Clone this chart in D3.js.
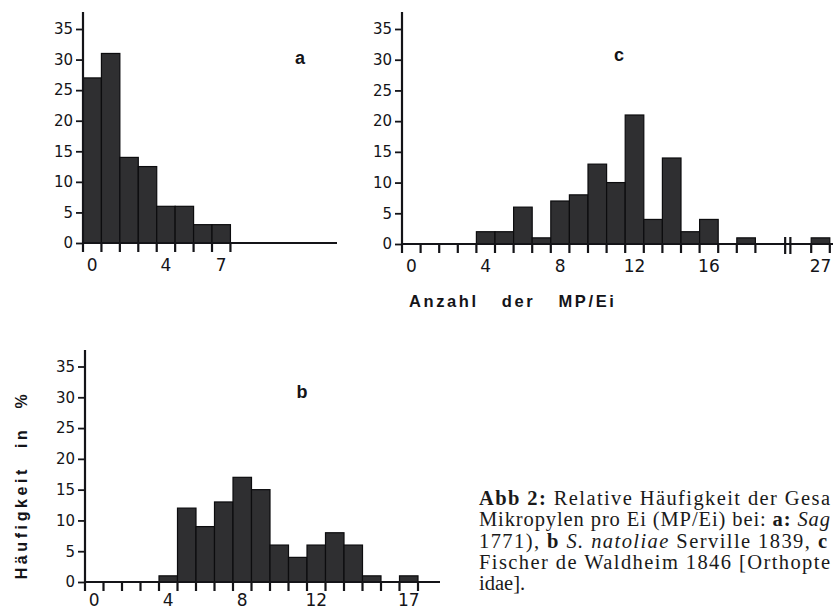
<!DOCTYPE html>
<html>
<head>
<meta charset="utf-8">
<script src="https://cdn.jsdelivr.net/npm/d3@7"></script>
<style>
  html, body { margin: 0; padding: 0; background: #fff; }
  svg { display: block; }
</style>
</head>
<body>
<svg id="chart" width="833" height="610"></svg>
<script>
// ---------- data ----------
const yTickValues = [0, 5, 10, 15, 20, 25, 30, 35];

const aBins   = [0, 1, 2, 3, 4, 5, 6, 7];
const aValues = [27, 31, 14, 12.5, 6, 6, 3, 3];
const aXLabels = [0, 4, 7];

const bBins   = [4, 5, 6, 7, 8, 9, 10, 11, 12, 13, 14, 15, 16, 17];
const bValues = [1, 12, 9, 13, 17, 15, 6, 4, 6, 8, 6, 1, 0, 1];
const bXLabels = [0, 4, 8, 12, 17];

const cBins   = [4, 5, 6, 7, 8, 9, 10, 11, 12, 13, 14, 15, 16, 17, 18, 27];
const cValues = [2, 2, 6, 1, 7, 8, 13, 10, 21, 4, 14, 2, 4, 0, 1, 1];
const cXLabels = [0, 4, 8, 12, 16, 27];

const panelNames = ["a", "b", "c"];
const xAxisTitle = "Anzahl der MP/Ei";
const yAxisTitle = "Häufigkeit in %";

const captionLines = [
  [["Abb 2:", "b"], [" Relative Häufigkeit der Gesa", ""]],
  [["Mikropylen pro Ei (MP/Ei) bei: ", ""], ["a:", "b"], [" ", ""], ["Sag", "i"]],
  [["1771), ", ""], ["b", "b"], [" ", ""], ["S. natoliae", "i"], [" Serville 1839, ", ""], ["c", "b"]],
  [["Fischer de Waldheim 1846 [Orthopte", ""]],
  [["idae].", ""]]
];

// ---------- drawing ----------
const svg = d3.select("#chart");
const ink = "#141418";
const barFill = "#2f2f31";
const sans = "'DejaVu Sans', 'Liberation Sans', sans-serif";

function panel(cfg) {
  const g = svg.append("g");
  const x = d3.scaleLinear().domain([0, cfg.slots]).range([cfg.x0, cfg.x0 + cfg.step * cfg.slots]);
  const y = d3.scaleLinear().domain([0, 35]).range([cfg.base, cfg.top35]);
  const slot = cfg.slotOf || (v => v);

  // bars
  g.selectAll("rect.bar")
    .data(cfg.bins.map((b, i) => ({ b, v: cfg.values[i] })).filter(d => d.v > 0))
    .join("rect")
    .attr("class", "bar")
    .attr("x", d => x(slot(d.b)))
    .attr("width", d => x(slot(d.b) + 1) - x(slot(d.b)))
    .attr("y", d => y(d.v))
    .attr("height", d => y(0) - y(d.v))
    .attr("fill", barFill)
    .attr("stroke", "#0c0c0e")
    .attr("stroke-width", 1.2);

  // y axis
  const yAxis = d3.axisLeft(y).tickValues(yTickValues).tickSize(7).tickPadding(3);
  const ya = g.append("g").attr("transform", `translate(${cfg.x0},0)`).call(yAxis);
  ya.select(".domain").remove();
  ya.selectAll(".tick line").attr("stroke", ink).attr("stroke-width", 1.8);
  ya.selectAll(".tick text").attr("font-family", sans).attr("font-size", 15).attr("fill", ink);
  g.append("line")
    .attr("x1", cfg.x0).attr("x2", cfg.x0)
    .attr("y1", cfg.axisTop).attr("y2", y(0) + 1)
    .attr("stroke", ink).attr("stroke-width", 2.2);

  // baseline
  g.append("line")
    .attr("x1", cfg.x0).attr("x2", cfg.baseEnd)
    .attr("y1", y(0)).attr("y2", y(0))
    .attr("stroke", ink).attr("stroke-width", 2);

  // x ticks
  g.selectAll("line.xt")
    .data(cfg.xTicks)
    .join("line")
    .attr("class", "xt")
    .attr("x1", d => x(d)).attr("x2", d => x(d))
    .attr("y1", y(0)).attr("y2", y(0) + 9)
    .attr("stroke", ink).attr("stroke-width", 2.2);

  // x labels
  g.selectAll("text.xl")
    .data(cfg.xLabels)
    .join("text")
    .attr("class", "xl")
    .attr("x", d => x(slot(d) + 0.5))
    .attr("y", y(0) + cfg.labelGap)
    .attr("text-anchor", "middle")
    .attr("font-family", sans)
    .attr("font-size", 17)
    .attr("fill", ink)
    .text(d => d);

  // panel letter
  g.append("text")
    .attr("x", cfg.labelX).attr("y", cfg.labelY)
    .attr("text-anchor", "middle")
    .attr("font-family", "'Liberation Sans', sans-serif")
    .attr("font-weight", "bold")
    .attr("font-size", 18)
    .attr("fill", ink)
    .text(cfg.name);

  return { g, x, y };
}

// panel a
panel({
  name: panelNames[0], bins: aBins, values: aValues, xLabels: aXLabels,
  x0: 83, step: 18.43, slots: 14, base: 243, top35: 29, axisTop: 12, baseEnd: 337,
  xTicks: d3.range(0, 9), labelX: 300, labelY: 64, labelGap: 28
});

// panel b
panel({
  name: panelNames[1], bins: bBins, values: bValues, xLabels: bXLabels,
  x0: 85, step: 18.5, slots: 19, base: 582, top35: 366.5, axisTop: 350, baseEnd: 440,
  xTicks: d3.range(0, 19), labelX: 302, labelY: 398, labelGap: 24
});

// panel c (broken axis: 27 drawn in slot 22)
const slotC = v => (v <= 18 ? v : v - 5);
const pc = panel({
  name: panelNames[2], bins: cBins, values: cValues, xLabels: cXLabels, slotOf: slotC,
  x0: 402, step: 18.6, slots: 23, base: 244, top35: 29, axisTop: 12, baseEnd: 833,
  xTicks: d3.range(0, 20).concat([22, 23]), labelX: 619, labelY: 61, labelGap: 28
});
// axis break marks
pc.g.selectAll("line.brk")
  .data([20.6, 20.88])
  .join("line")
  .attr("class", "brk")
  .attr("x1", d => pc.x(d)).attr("x2", d => pc.x(d))
  .attr("y1", pc.y(0) - 7).attr("y2", pc.y(0) + 10)
  .attr("stroke", ink).attr("stroke-width", 2.2);

// x axis title
svg.append("text")
  .attr("x", 409).attr("y", 307)
  .attr("font-family", "'Liberation Sans', sans-serif")
  .attr("font-weight", "bold")
  .attr("font-size", 16.5)
  .attr("letter-spacing", 2.6)
  .attr("word-spacing", 16)
  .attr("fill", ink)
  .text(xAxisTitle);

// y axis title
svg.append("text")
  .attr("transform", "translate(27,485) rotate(-90)")
  .attr("text-anchor", "middle")
  .attr("font-family", "'Liberation Sans', sans-serif")
  .attr("font-weight", "bold")
  .attr("font-size", 16)
  .attr("letter-spacing", 3.6)
  .attr("word-spacing", 10)
  .attr("fill", ink)
  .text(yAxisTitle);

// caption
const capX = 479, capY0 = 505, capDy = 21.3;
const capLens = [351, 351, 348, 351, null];
captionLines.forEach((segs, i) => {
  const t = svg.append("text")
    .attr("x", capX).attr("y", capY0 + i * capDy)
    .attr("font-family", "'Liberation Serif', 'DejaVu Serif', serif")
    .attr("font-size", 20.5)
    .attr("fill", "#1a1a1a")
    .attr("xml:space", "preserve");
  if (capLens[i]) t.attr("textLength", capLens[i]).attr("lengthAdjust", "spacing");
  segs.forEach(([txt, st]) => {
    t.append("tspan")
      .attr("font-weight", st === "b" ? "bold" : null)
      .attr("font-style", st === "i" ? "italic" : null)
      .text(txt);
  });
});
</script>
</body>
</html>
